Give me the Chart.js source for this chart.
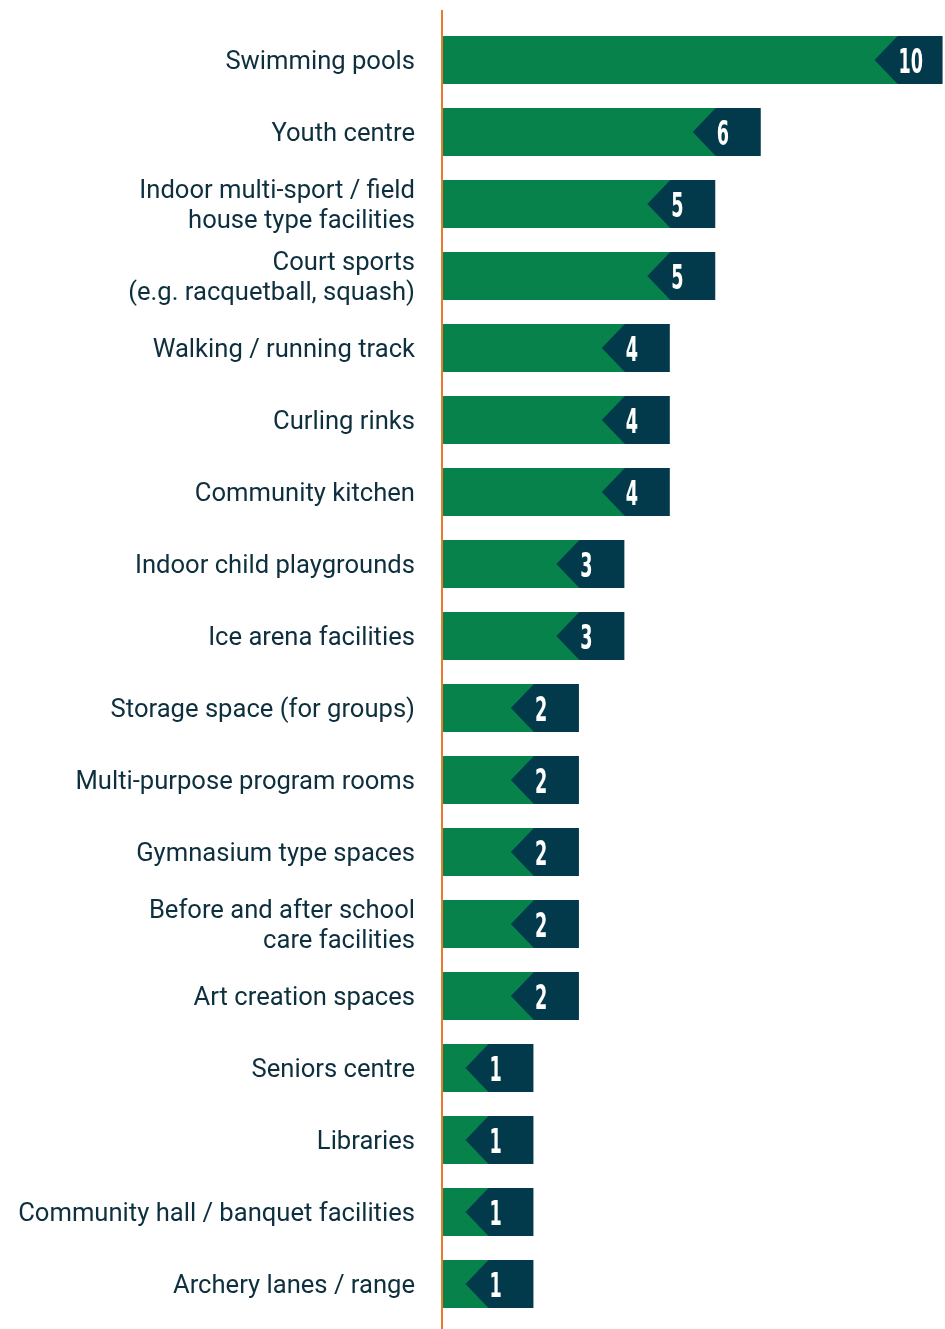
<!DOCTYPE html>
<html>
<head>
<meta charset="utf-8">
<script src="https://cdn.jsdelivr.net/npm/chart.js@4"></script>
<style>
  html, body { margin: 0; padding: 0; background: #fff; }
  #wrap { width: 945px; height: 1329px; }
</style>
</head>
<body>
<div id="wrap"><canvas id="myChart" width="945" height="1329"></canvas></div>
<script>
"use strict";

const facilities = [
    "Swimming pools",
    "Youth centre",
    ["Indoor multi-sport / field", "house type facilities"],
    ["Court sports", "(e.g. racquetball, squash)"],
    "Walking / running track",
    "Curling rinks",
    "Community kitchen",
    "Indoor child playgrounds",
    "Ice arena facilities",
    "Storage space (for groups)",
    "Multi-purpose program rooms",
    "Gymnasium type spaces",
    ["Before and after school", "care facilities"],
    "Art creation spaces",
    "Seniors centre",
    "Libraries",
    "Community hall / banquet facilities",
    "Archery lanes / range"
]
const mentions = [10, 6, 5, 5, 4, 4, 4, 3, 3, 2, 2, 2, 2, 2, 1, 1, 1, 1]

const green = "#06824a"
const navy = "#023a4c"
const orange = "#ec7a2d"

// navy arrow tag at the end of each bar with the value in it
const tagPlugin = {
    id: 'tags',
    afterDatasetsDraw(chart) {
        const ctx = chart.ctx;
        const meta = chart.getDatasetMeta(0);
        meta.data.forEach((bar, i) => {
            const p = bar.getProps(['x', 'y', 'height'], true);
            const top = p.y - p.height / 2;
            const bottom = p.y + p.height / 2;
            const w = 45;
            ctx.save();
            ctx.fillStyle = navy;
            ctx.beginPath();
            ctx.moveTo(p.x - p.height / 2 + 1, p.y);
            ctx.lineTo(p.x, top);
            ctx.lineTo(p.x + w, top);
            ctx.lineTo(p.x + w, bottom);
            ctx.lineTo(p.x, bottom);
            ctx.closePath();
            ctx.fill();

            ctx.fillStyle = "#fff";
            ctx.font = "bold 34px 'DejaVu Sans'";
            ctx.textAlign = "left";
            ctx.textBaseline = "alphabetic";
            ctx.translate(p.x + 1, p.y + 12.5);
            ctx.scale(0.52, 1);
            ctx.fillText(String(mentions[i]), 0, 0);
            ctx.restore();
        });
    },
    afterDraw(chart) {
        const ctx = chart.ctx;
        ctx.save();
        ctx.strokeStyle = orange;
        ctx.lineWidth = 2;
        ctx.beginPath();
        ctx.moveTo(442, 10);
        ctx.lineTo(442, chart.height);
        ctx.stroke();
        ctx.restore();
    }
};

new Chart("myChart", {
    type: 'bar',
    data: {
        labels: facilities,
        datasets: [{
            data: mentions,
            backgroundColor: green,
            borderWidth: 0,
            barPercentage: 1,
            categoryPercentage: 48 / 72
        }]
    },
    options: {
        indexAxis: 'y',
        responsive: false,
        animation: false,
        layout: { padding: { top: 24, bottom: 9, left: 0, right: 2 } },
        plugins: {
            legend: { display: false },
            tooltip: { enabled: false }
        },
        scales: {
            x: { display: false, min: 0, max: 11 },
            y: {
                grid: { display: false, drawTicks: true, tickLength: 34 },
                border: { display: false },
                afterFit(scale) { scale.width = 443; },
                ticks: {
                    padding: -6,
                    labelOffset: 3,
                    color: "#0d2f3e",
                    font: { family: "Roboto", size: 25.6, lineHeight: 1.17 }
                }
            }
        }
    },
    plugins: [tagPlugin]
});
</script>
</body>
</html>
